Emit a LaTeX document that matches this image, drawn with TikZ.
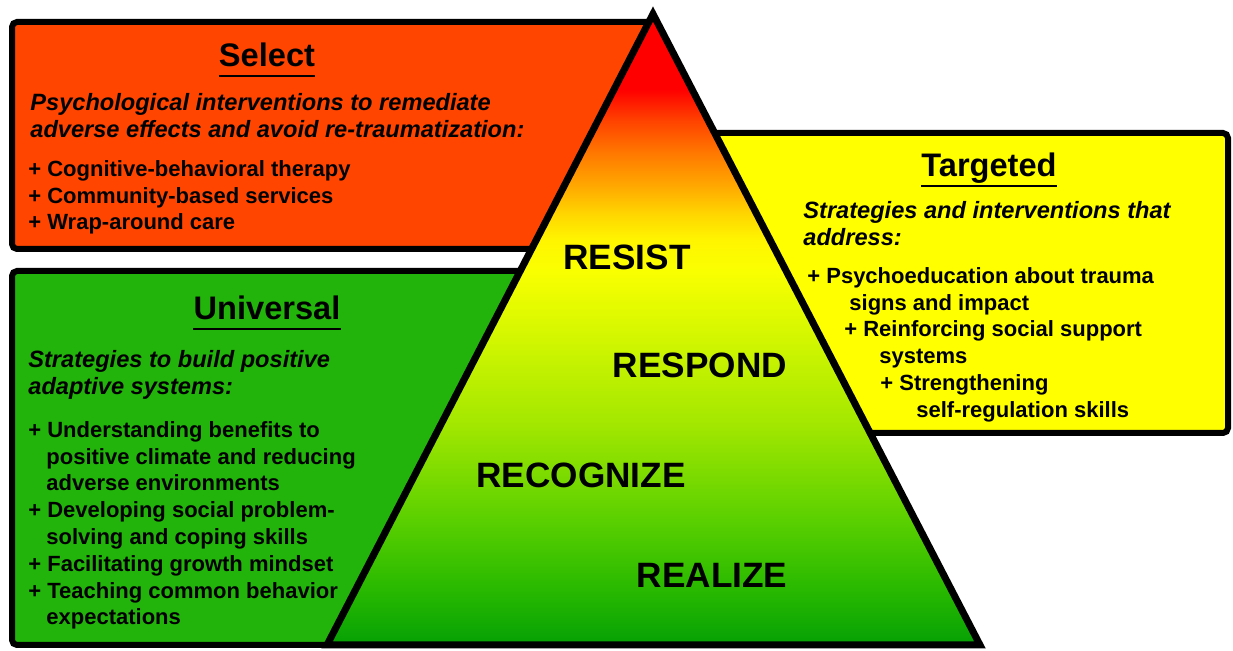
\documentclass[tikz,border=0pt]{standalone}
\usepackage{fontspec}
\setmainfont{Liberation Sans}

\definecolor{selectred}{RGB}{255,69,0}
\definecolor{universalgreen}{RGB}{34,180,10}
\definecolor{targetyellow}{RGB}{255,255,0}
\definecolor{pyrA}{RGB}{5,160,5}
\definecolor{pyrB}{RGB}{40,185,0}
\definecolor{pyrC}{RGB}{90,208,0}
\definecolor{pyrD}{RGB}{165,232,0}
\definecolor{pyrE}{RGB}{215,248,0}
\definecolor{pyrF}{RGB}{250,255,0}
\definecolor{pyrG}{RGB}{255,245,0}
\definecolor{pyrH}{RGB}{255,215,0}
\definecolor{pyrI}{RGB}{255,170,0}
\definecolor{pyrJ}{RGB}{255,120,0}
\definecolor{pyrK}{RGB}{255,65,0}
\definecolor{pyrL}{RGB}{255,0,0}
\pgfdeclareverticalshading{pyramidshade}{100bp}{color(0bp)=(pyrA); color(25bp)=(pyrA);
  color(29.4bp)=(pyrB); color(34.9bp)=(pyrC); color(42.8bp)=(pyrD); color(50bp)=(pyrE);
  color(54.7bp)=(pyrF); color(57.1bp)=(pyrG); color(59.1bp)=(pyrH); color(61.3bp)=(pyrI);
  color(64bp)=(pyrJ); color(66.6bp)=(pyrK); color(69bp)=(pyrL); color(75bp)=(pyrL);
  color(100bp)=(pyrL)}

\begin{document}
\begin{tikzpicture}[x=0.5pt,y=-0.5pt,
    box/.style={line width=3pt,rounded corners=2.5pt},
    tiername/.style={font=\fontsize{16.3}{18}\selectfont\bfseries,inner sep=0pt,anchor=base},
    leadtext/.style={font=\fontsize{11.8}{13.5}\selectfont\bfseries\itshape,align=left,inner sep=0pt,anchor=north west},
    itemtext/.style={font=\fontsize{11}{13.4}\selectfont\bfseries,align=left,inner sep=0pt,anchor=north west},
    rlabel/.style={font=\fontsize{17.6}{20}\selectfont\bfseries,inner sep=0pt}]
  \useasboundingbox (0,0) rectangle (1233,651);

  % the three tiers
  \draw[box,fill=selectred] (12,22) rectangle (655,249);
  \draw[box,fill=universalgreen] (12,271) rectangle (655,645);
  \draw[box,fill=targetyellow] (655,133) rectangle (1228,433);

  % pyramid
  \coordinate (apex) at (653,14);
  \coordinate (baseL) at (327,645);
  \coordinate (baseR) at (980,645);
  \shadedraw[shading=pyramidshade,line width=3.5pt,line join=miter] (apex) -- (baseL) -- (baseR) -- cycle;

  \node[rlabel] (resist) at (627,257) {RESIST};
  \node[rlabel] (respond) at (700,365) {RESPOND};
  \node[rlabel] (recognize) at (581,475) {RECOGNIZE};
  \node[rlabel] (realize) at (712,575) {REALIZE};

  % select
  \node[tiername] (seltitle) at (267,67) {Select};
  \draw[line width=1pt] ([yshift=-4.5pt]seltitle.base west) -- ([yshift=-4.5pt]seltitle.base east);
  \node[leadtext] (sellead) at (30,93) {Psychological interventions to remediate\\adverse effects and avoid re-traumatization:};
  \node[itemtext] (selitems) at (28,160) {+ Cognitive-behavioral therapy\\+ Community-based services\\+ Wrap-around care};

  % universal
  \node[tiername] (unititle) at (267,320) {Universal};
  \draw[line width=1pt] ([yshift=-4.5pt]unititle.base west) -- ([yshift=-4.5pt]unititle.base east);
  \node[leadtext] (unilead) at (28,350) {Strategies to build positive\\adaptive systems:};
  \node[itemtext] (uniitems) at (28,421) {+ Understanding benefits to\\
    \hspace*{9pt}positive climate and reducing\\
    \hspace*{9pt}adverse environments\\
    + Developing social problem-\\
    \hspace*{9pt}solving and coping skills\\
    + Facilitating growth mindset\\
    + Teaching common behavior\\
    \hspace*{9pt}expectations};

  % targeted
  \node[tiername] (tartitle) at (989,177) {Targeted};
  \draw[line width=1pt] ([yshift=-4.5pt]tartitle.base west) -- ([yshift=-4.5pt]tartitle.base east);
  \node[leadtext] (tarlead) at (803,201) {Strategies and interventions that\\address:};
  \node[itemtext] (taritems) at (807,267) {+ Psychoeducation about trauma\\
    \hspace*{21pt}signs and impact\\
    \hspace*{18.5pt}+ Reinforcing social support\\
    \hspace*{36pt}systems\\
    \hspace*{36.5pt}+ Strengthening\\
    \hspace*{54.5pt}self-regulation skills};
\end{tikzpicture}
\end{document}
